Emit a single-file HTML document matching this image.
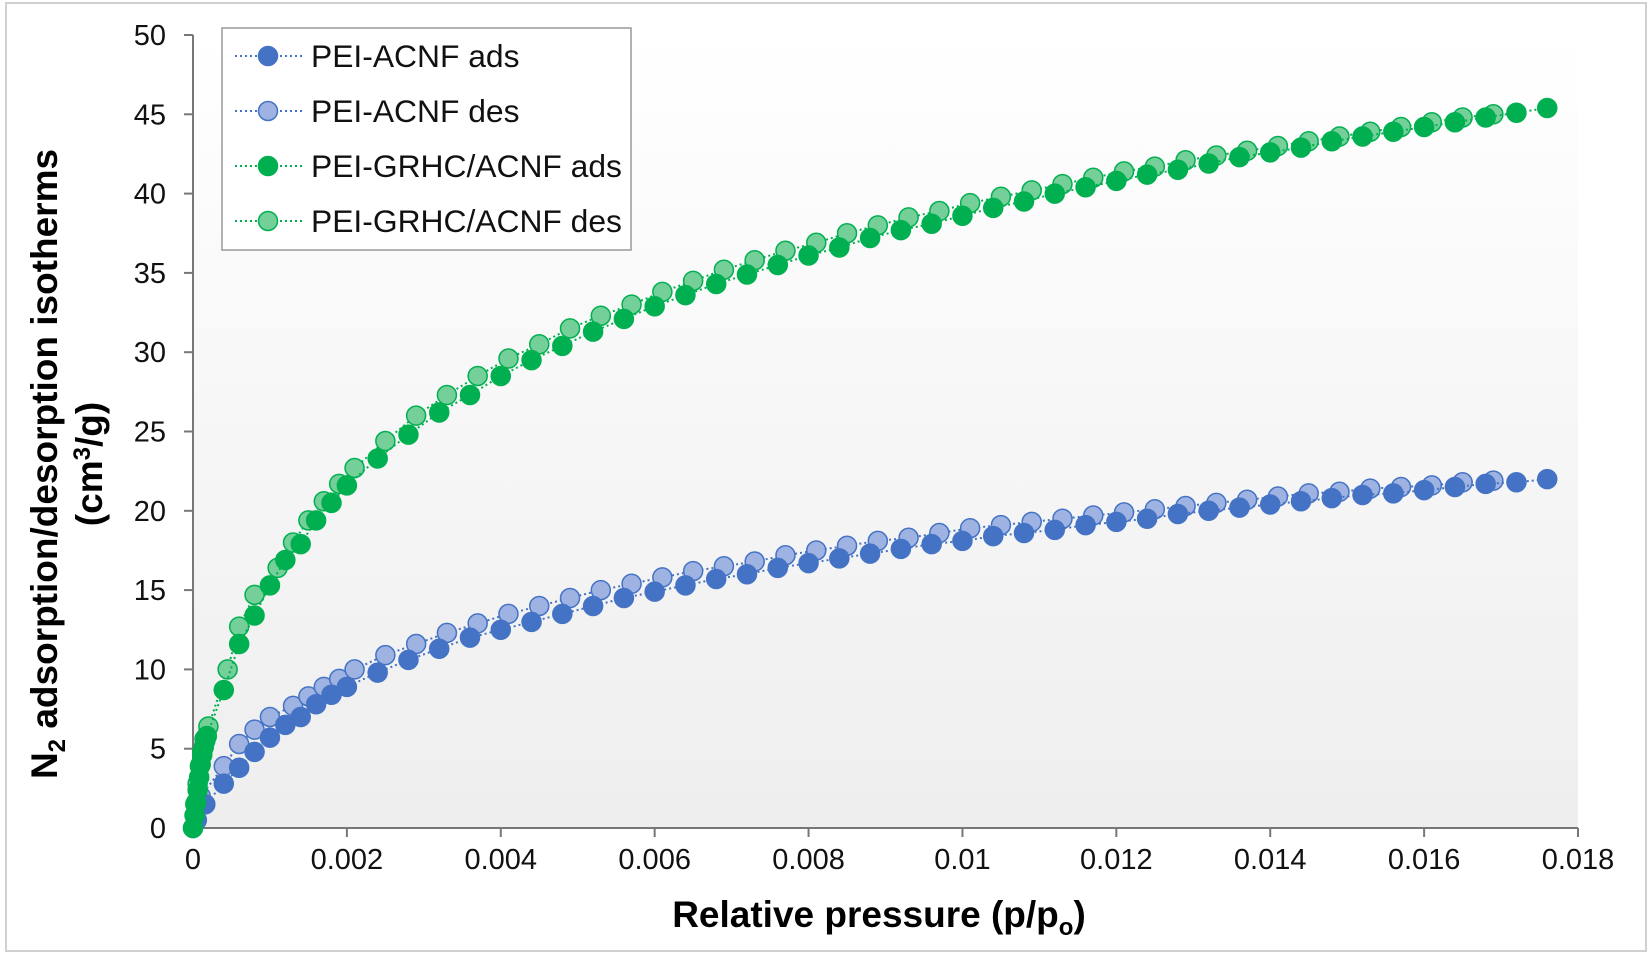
<!DOCTYPE html>
<html><head><meta charset="utf-8"><style>
html,body{margin:0;padding:0;background:#fff;}
svg{display:block;font-family:"Liberation Sans",Arial,sans-serif;}
</style></head><body>
<svg id="chart" width="1650" height="955" viewBox="0 0 1650 955">
<defs>
<linearGradient id="bg" x1="0" y1="0" x2="0" y2="1"><stop offset="0" stop-color="#ffffff"/><stop offset="1" stop-color="#eeeeee"/></linearGradient>
</defs>
<rect x="6" y="3" width="1640" height="948" fill="#fff" stroke="#d0d0d0" stroke-width="2"/>
<rect x="193" y="35" width="1385" height="793" fill="url(#bg)"/>
<g id="axes"></g>
<g id="series"></g>
<g id="legend">
<rect x="222" y="28" width="409" height="222" fill="#fff" stroke="#999" stroke-width="1.5"/>
</g>
<text x="879" y="927" text-anchor="middle" font-size="37" font-weight="bold">Relative pressure (p/p<tspan font-size="24" dy="8">o</tspan><tspan dy="-8">)</tspan></text>
<g transform="translate(57,464) rotate(-90)">
<text x="0" y="0" text-anchor="middle" font-size="37" font-weight="bold">N<tspan font-size="24" dy="8">2</tspan><tspan dy="-8"> adsorption/desorption isotherms</tspan></text>
<text x="0" y="45" text-anchor="middle" font-size="37" font-weight="bold">(cm<tspan font-size="24" dy="-12">3</tspan><tspan dy="12">/g)</tspan></text>
</g>
</svg>
<script>
const xTicks = [0, 0.002, 0.004, 0.006, 0.008, 0.01, 0.012, 0.014, 0.016, 0.018];
const xTickLabels = ["0","0.002","0.004","0.006","0.008","0.01","0.012","0.014","0.016","0.018"];
const yTicks = [0,5,10,15,20,25,30,35,40,45,50];
const seriesNames = ["PEI-ACNF ads","PEI-ACNF des","PEI-GRHC/ACNF ads","PEI-GRHC/ACNF des"];

const blueAdsX = [0,0.00005,0.00016,0.0004,0.0006,0.0008,0.001,0.0012,0.0014,0.0016,0.0018,0.002,0.0024,0.0028,0.0032,0.0036,0.004,0.0044,0.0048,0.0052,0.0056,0.006,0.0064,0.0068,0.0072,0.0076,0.008,0.0084,0.0088,0.0092,0.0096,0.01,0.0104,0.0108,0.0112,0.0116,0.012,0.0124,0.0128,0.0132,0.0136,0.014,0.0144,0.0148,0.0152,0.0156,0.016,0.0164,0.0168,0.0172,0.0176];
const blueAdsY = [0,0.5,1.5,2.8,3.8,4.8,5.7,6.5,7.0,7.8,8.4,8.9,9.8,10.6,11.3,12.0,12.5,13.0,13.5,14.0,14.5,14.9,15.3,15.7,16.0,16.4,16.7,17.0,17.3,17.6,17.9,18.1,18.4,18.6,18.8,19.1,19.3,19.5,19.8,20.0,20.2,20.4,20.6,20.8,21.0,21.1,21.3,21.5,21.7,21.8,22.0];
const blueDesX = [0.0001,0.0004,0.0006,0.0008,0.001,0.0013,0.0015,0.0017,0.0019,0.0021,0.0025,0.0029,0.0033,0.0037,0.0041,0.0045,0.0049,0.0053,0.0057,0.0061,0.0065,0.0069,0.0073,0.0077,0.0081,0.0085,0.0089,0.0093,0.0097,0.0101,0.0105,0.0109,0.0113,0.0117,0.0121,0.0125,0.0129,0.0133,0.0137,0.0141,0.0145,0.0149,0.0153,0.0157,0.0161,0.0165,0.0169];
const blueDesY = [2.0,3.9,5.3,6.2,7.0,7.7,8.3,8.9,9.4,10.0,10.9,11.6,12.3,12.9,13.5,14.0,14.5,15.0,15.4,15.8,16.2,16.5,16.8,17.2,17.5,17.8,18.1,18.3,18.6,18.9,19.1,19.3,19.5,19.7,19.9,20.1,20.3,20.5,20.7,20.9,21.1,21.2,21.4,21.5,21.6,21.8,21.9];
const greenAdsX = [0,0.00002,0.00004,0.00006,0.00008,0.0001,0.00012,0.00014,0.00016,0.00018,0.0004,0.0006,0.0008,0.001,0.0012,0.0014,0.0016,0.0018,0.002,0.0024,0.0028,0.0032,0.0036,0.004,0.0044,0.0048,0.0052,0.0056,0.006,0.0064,0.0068,0.0072,0.0076,0.008,0.0084,0.0088,0.0092,0.0096,0.01,0.0104,0.0108,0.0112,0.0116,0.012,0.0124,0.0128,0.0132,0.0136,0.014,0.0144,0.0148,0.0152,0.0156,0.016,0.0164,0.0168,0.0172,0.0176];
const greenAdsY = [0,0.8,1.6,2.4,3.2,4.0,4.6,5.1,5.5,5.8,8.7,11.6,13.4,15.3,16.9,17.9,19.4,20.5,21.6,23.3,24.8,26.2,27.3,28.5,29.5,30.4,31.3,32.1,32.9,33.6,34.3,34.9,35.5,36.1,36.6,37.2,37.7,38.1,38.6,39.1,39.5,40.0,40.4,40.8,41.2,41.5,41.9,42.3,42.6,42.9,43.3,43.6,43.9,44.2,44.5,44.8,45.1,45.4];
const greenDesX = [0.00003,0.00006,0.00009,0.00012,0.00015,0.0002,0.00045,0.0006,0.0008,0.0011,0.0013,0.0015,0.0017,0.0019,0.0021,0.0025,0.0029,0.0033,0.0037,0.0041,0.0045,0.0049,0.0053,0.0057,0.0061,0.0065,0.0069,0.0073,0.0077,0.0081,0.0085,0.0089,0.0093,0.0097,0.0101,0.0105,0.0109,0.0113,0.0117,0.0121,0.0125,0.0129,0.0133,0.0137,0.0141,0.0145,0.0149,0.0153,0.0157,0.0161,0.0165,0.0169];
const greenDesY = [1.5,2.8,3.9,4.8,5.6,6.4,10.0,12.7,14.7,16.4,18.0,19.4,20.6,21.7,22.7,24.4,26.0,27.3,28.5,29.6,30.5,31.5,32.3,33.0,33.8,34.5,35.2,35.8,36.4,36.9,37.5,38.0,38.5,38.9,39.4,39.8,40.2,40.6,41.0,41.4,41.7,42.1,42.4,42.7,43.0,43.3,43.6,43.9,44.2,44.5,44.8,45.0];

const NS = "http://www.w3.org/2000/svg";
const X0 = 193, X1 = 1578, Y0 = 828, Y1 = 35;
function sx(v){ return X0 + v / 0.018 * (X1 - X0); }
function sy(v){ return Y0 - v / 50 * (Y0 - Y1); }
function mk(tag, attrs, parent){ const e = document.createElementNS(NS, tag); for (const k in attrs) e.setAttribute(k, attrs[k]); parent.appendChild(e); return e; }

const axes = document.getElementById('axes');
const yAxis = mk('line', {x1:X0, y1:Y1, x2:X0, y2:Y0, stroke:'#777', 'stroke-width':2}, axes);


const xAxis = mk('line', {x1:X0, y1:Y0, x2:X1, y2:Y0, stroke:'#777', 'stroke-width':2}, axes);


yTicks.forEach(v => {
  mk('line', {x1:X0-9, y1:sy(v), x2:X0, y2:sy(v), stroke:'#777', 'stroke-width':2}, axes);
  const t = mk('text', {x:X0-27, y:sy(v)+10, 'text-anchor':'end', 'font-size':29, fill:'#111'}, axes);
  t.textContent = String(v);
  
  
});
xTicks.forEach((v, i) => {
  mk('line', {x1:sx(v), y1:Y0, x2:sx(v), y2:Y0+9, stroke:'#777', 'stroke-width':2}, axes);
  const t = mk('text', {x:sx(v), y:Y0+41, 'text-anchor':'middle', 'font-size':29, fill:'#111'}, axes);
  t.textContent = xTickLabels[i];
  
  
});

const styles = [
  {line:'#4472C4', fill:'#4472C4', stroke:'#4472C4'},
  {line:'#4472C4', fill:'#9EB3E2', stroke:'#4472C4'},
  {line:'#00B050', fill:'#00B050', stroke:'#00B050'},
  {line:'#00B050', fill:'#74CF98', stroke:'#00B050'}
];
const seriesData = [[blueAdsX, blueAdsY], [blueDesX, blueDesY], [greenAdsX, greenAdsY], [greenDesX, greenDesY]];
const seriesKeys = ['blue-ads','blue-des','green-ads','green-des'];
const sg = document.getElementById('series');
const drawOrder = [1, 0, 3, 2];
drawOrder.forEach(i => {
  const [xs, ys] = seriesData[i];
  const st = styles[i];
  const g = mk('g', {}, sg);
  
  
  const pts = xs.map((x, j) => sx(x).toFixed(1) + ',' + sy(ys[j]).toFixed(1)).join(' ');
  mk('polyline', {points:pts, fill:'none', stroke:st.line, 'stroke-width':2, 'stroke-dasharray':'2 3'}, g);
  xs.forEach((x, j) => {
    const c = mk('circle', {cx:sx(x), cy:sy(ys[j]), r:9.5, fill:st.fill, stroke:st.stroke, 'stroke-width':1.5}, g);
    
    
  });
});

const lg = document.getElementById('legend');
seriesNames.forEach((name, i) => {
  const y = 56 + i * 55;
  const st = styles[i];
  const e = mk('g', {}, lg);
  
  
  mk('line', {x1:235, y1:y, x2:302, y2:y, stroke:st.line, 'stroke-width':2, 'stroke-dasharray':'2 3'}, e);
  mk('circle', {cx:268, cy:y, r:9.5, fill:st.fill, stroke:st.stroke, 'stroke-width':1.5}, e);
  const t = mk('text', {x:311, y:y+11, 'font-size':31.8, fill:'#111'}, e);
  t.textContent = name;
});
</script>
</body></html>
